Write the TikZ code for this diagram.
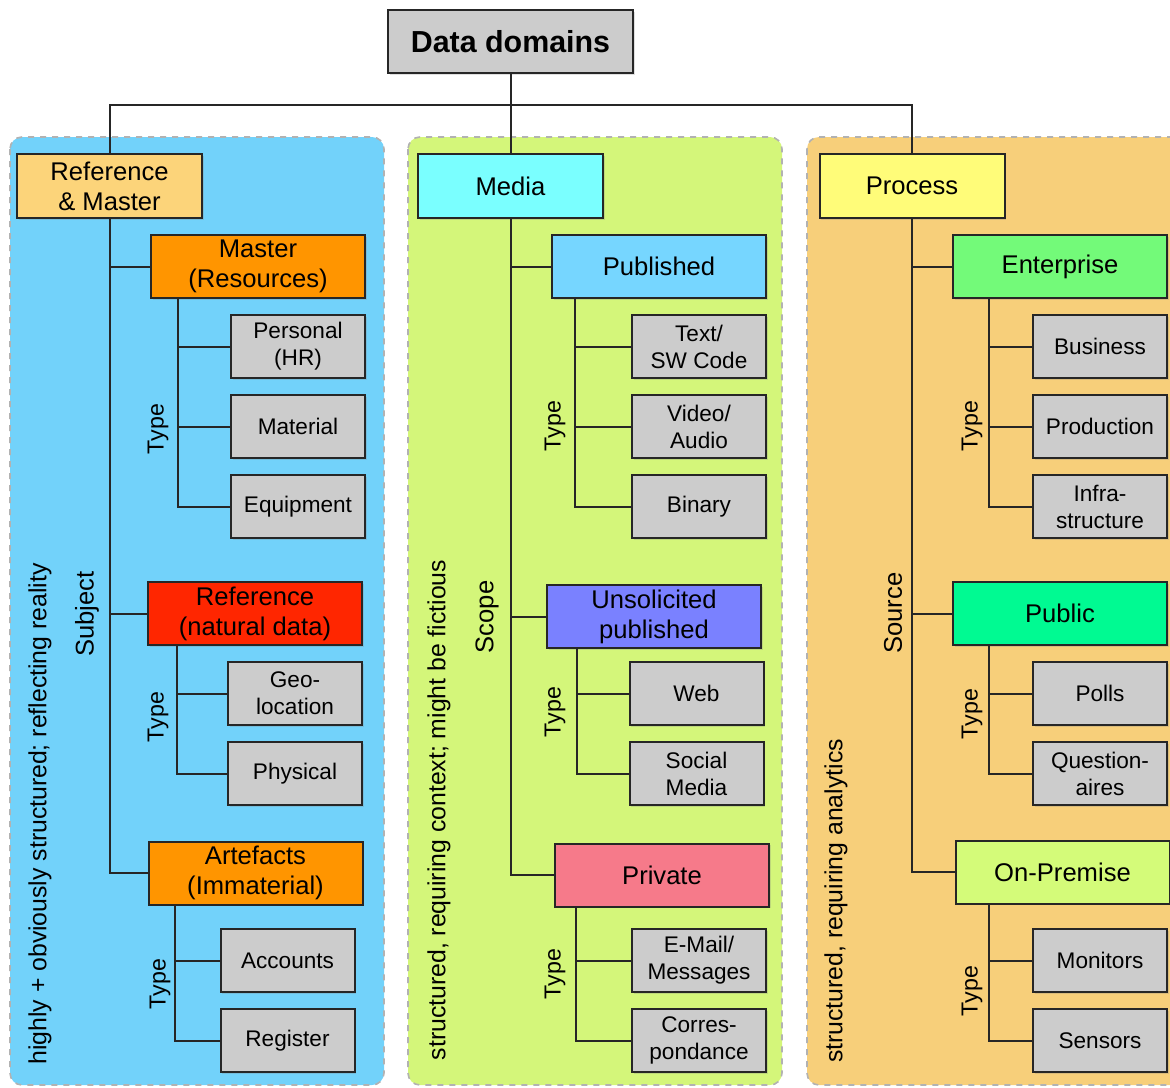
\documentclass[tikz,border=0pt]{standalone}
\usepackage{fontspec}
\setmainfont{Liberation Sans}
\usetikzlibrary{positioning,calc,shadows}
\tikzset{font=\fontsize{12.8}{15}\selectfont}

\definecolor{boxgray}{HTML}{CCCCCC}
\definecolor{panelblue}{HTML}{72D2FA}
\definecolor{panelgreen}{HTML}{D4F67A}
\definecolor{panelorange}{HTML}{F7CF7A}
\definecolor{cRefMaster}{HTML}{FCD47A}
\definecolor{cMaster}{HTML}{FF9500}
\definecolor{cReference}{HTML}{FF2600}
\definecolor{cMedia}{HTML}{7AFFFF}
\definecolor{cPublished}{HTML}{76D6FF}
\definecolor{cUnsolicited}{HTML}{7A81FF}
\definecolor{cPrivate}{HTML}{F67A8A}
\definecolor{cProcess}{HTML}{FFFC79}
\definecolor{cEnterprise}{HTML}{73FA79}
\definecolor{cPublic}{HTML}{00FA92}
\definecolor{cOnPrem}{HTML}{D4FB79}

\begin{document}
\begin{tikzpicture}[x=0.5pt,y=-0.5pt]
	\clip (0,0) rectangle (1170,1087);
	\tikzstyle{every node}=[align=center, inner sep=1pt]
	\tikzstyle{panel}=[rounded corners=6pt, draw=black!30, dashed, line width=0.8pt]
	\tikzstyle{box}=[draw=black!85, line width=1pt, drop shadow={shadow xshift=0.8pt, shadow yshift=-0.8pt, opacity=0.25}]
	\tikzstyle{rootbox}=[box, fill=boxgray, minimum width=122.5pt, minimum height=31.5pt, font=\fontsize{15.2}{18}\selectfont\bfseries]
	\tikzstyle{topbox}=[box, minimum width=92.5pt, minimum height=32pt]
	\tikzstyle{midbox}=[box, minimum width=107pt, minimum height=31.5pt]
	\tikzstyle{leafbox}=[box, fill=boxgray, minimum width=67pt, minimum height=31.5pt, font=\fontsize{11.3}{13.5}\selectfont]
	\tikzstyle{typelabel}=[rotate=90, font=\fontsize{11.6}{14}\selectfont]
	\tikzstyle{note}=[rotate=90, font=\fontsize{12.4}{15}\selectfont]
	\tikzstyle{link}=[line width=1pt, black!85]

	\draw[panel, fill=panelblue] (10,137) rectangle (384,1085);
	\draw[panel, fill=panelgreen] (408,137) rectangle (782,1085);
	\draw[panel, fill=panelorange] (807,137) rectangle (1190,1085);

	\node[rootbox] (dd) at (510.5,41.5) {Data domains};
	\coordinate (bus) at (510.5,105);

	\node[topbox, fill=cRefMaster] (refmaster) at (109.5,186) {Reference\\\& Master};
	\node[midbox, fill=cMaster] (master) at (258,266.5) {Master\\(Resources)};
	\node[leafbox] (personal) at (298,346.5) {Personal\\(HR)};
	\node[leafbox] (material) at (298,426.5) {Material};
	\node[leafbox] (equipment) at (298,506.5) {Equipment};
	\node[midbox, fill=cReference] (reference) at (255,613.5) {Reference\\(natural data)};
	\node[leafbox] (geoloc) at (295,693.5) {Geo-\\location};
	\node[leafbox] (physical) at (295,773.5) {Physical};
	\node[midbox, fill=cMaster] (artefacts) at (255.5,873) {Artefacts\\(Immaterial)};
	\node[leafbox] (accounts) at (287.5,960.5) {Accounts};
	\node[leafbox] (register) at (287.5,1040.5) {Register};

	\node[topbox, fill=cMedia] (media) at (510.5,186) {Media};
	\node[midbox, fill=cPublished] (published) at (659,266.5) {Published};
	\node[leafbox] (textcode) at (699,346.5) {Text/\\SW Code};
	\node[leafbox] (video) at (699,426.5) {Video/\\Audio};
	\node[leafbox] (binary) at (699,506.5) {Binary};
	\node[midbox, fill=cUnsolicited] (unsolicited) at (654,616.5) {Unsolicited\\published};
	\node[leafbox] (web) at (696.5,693.5) {Web};
	\node[leafbox] (social) at (696.5,773.5) {Social\\Media};
	\node[midbox, fill=cPrivate] (private) at (662,875) {Private};
	\node[leafbox] (email) at (699,960.5) {E-Mail/\\Messages};
	\node[leafbox] (corres) at (699,1040.5) {Corres-\\pondance};

	\node[topbox, fill=cProcess] (process) at (912,186) {Process};
	\node[midbox, fill=cEnterprise] (enterprise) at (1060,266.5) {Enterprise};
	\node[leafbox] (business) at (1100,346.5) {Business};
	\node[leafbox] (production) at (1100,426.5) {Production};
	\node[leafbox] (infra) at (1100,506.5) {Infra-\\structure};
	\node[midbox, fill=cPublic] (public) at (1060,613.5) {Public};
	\node[leafbox] (polls) at (1100,693.5) {Polls};
	\node[leafbox] (question) at (1100,773.5) {Question-\\aires};
	\node[midbox, fill=cOnPrem] (onprem) at (1062.5,872) {On-Premise};
	\node[leafbox] (monitors) at (1100,960.5) {Monitors};
	\node[leafbox] (sensors) at (1100,1040.5) {Sensors};

	\node[rotate=90] (subject) at (87,614) {Subject};
	\node[rotate=90] (scope) at (487,617) {Scope};
	\node[rotate=90] (source) at (893,613) {Source};
	\node[typelabel] (typeA) at (158,429) {Type};
	\node[typelabel] (typeB) at (158,717) {Type};
	\node[typelabel] (typeC) at (160,984) {Type};
	\node[typelabel] (typeD) at (555,426) {Type};
	\node[typelabel] (typeE) at (555,712) {Type};
	\node[typelabel] (typeF) at (555,974) {Type};
	\node[typelabel] (typeG) at (972,426) {Type};
	\node[typelabel] (typeH) at (972,714) {Type};
	\node[typelabel] (typeI) at (972,991) {Type};
	\node[note] (noteA) at (40,814) {highly + obviously structured; reflecting reality};
	\node[note] (noteB) at (439,810) {structured, requiring context; might be fictious};
	\node[note] (noteC) at (836,901) {structured, requiring analytics};

	\draw[link] (dd.south) -- (media.north);
	\draw[link] (refmaster.north) |- (bus) -| (process.north);

	\draw[link] (refmaster.south) |- (master.west);
	\draw[link] (refmaster.south) |- (reference.west);
	\draw[link] (refmaster.south) |- (artefacts.west);
	\draw[link] ($(master.south west)+(28,0)$) |- (personal.west);
	\draw[link] ($(master.south west)+(28,0)$) |- (material.west);
	\draw[link] ($(master.south west)+(28,0)$) |- (equipment.west);
	\draw[link] ($(reference.south west)+(30,0)$) |- (geoloc.west);
	\draw[link] ($(reference.south west)+(30,0)$) |- (physical.west);
	\draw[link] ($(artefacts.south west)+(27,0)$) |- (accounts.west);
	\draw[link] ($(artefacts.south west)+(27,0)$) |- (register.west);

	\draw[link] (media.south) |- (published.west);
	\draw[link] (media.south) |- (unsolicited.west);
	\draw[link] (media.south) |- (private.west);
	\draw[link] ($(published.south west)+(24,0)$) |- (textcode.west);
	\draw[link] ($(published.south west)+(24,0)$) |- (video.west);
	\draw[link] ($(published.south west)+(24,0)$) |- (binary.west);
	\draw[link] ($(unsolicited.south west)+(31,0)$) |- (web.west);
	\draw[link] ($(unsolicited.south west)+(31,0)$) |- (social.west);
	\draw[link] ($(private.south west)+(22,0)$) |- (email.west);
	\draw[link] ($(private.south west)+(22,0)$) |- (corres.west);

	\draw[link] (process.south) |- (enterprise.west);
	\draw[link] (process.south) |- (public.west);
	\draw[link] (process.south) |- (onprem.west);
	\draw[link] ($(enterprise.south west)+(37,0)$) |- (business.west);
	\draw[link] ($(enterprise.south west)+(37,0)$) |- (production.west);
	\draw[link] ($(enterprise.south west)+(37,0)$) |- (infra.west);
	\draw[link] ($(public.south west)+(37,0)$) |- (polls.west);
	\draw[link] ($(public.south west)+(37,0)$) |- (question.west);
	\draw[link] ($(onprem.south west)+(34,0)$) |- (monitors.west);
	\draw[link] ($(onprem.south west)+(34,0)$) |- (sensors.west);
\end{tikzpicture}
\end{document}
